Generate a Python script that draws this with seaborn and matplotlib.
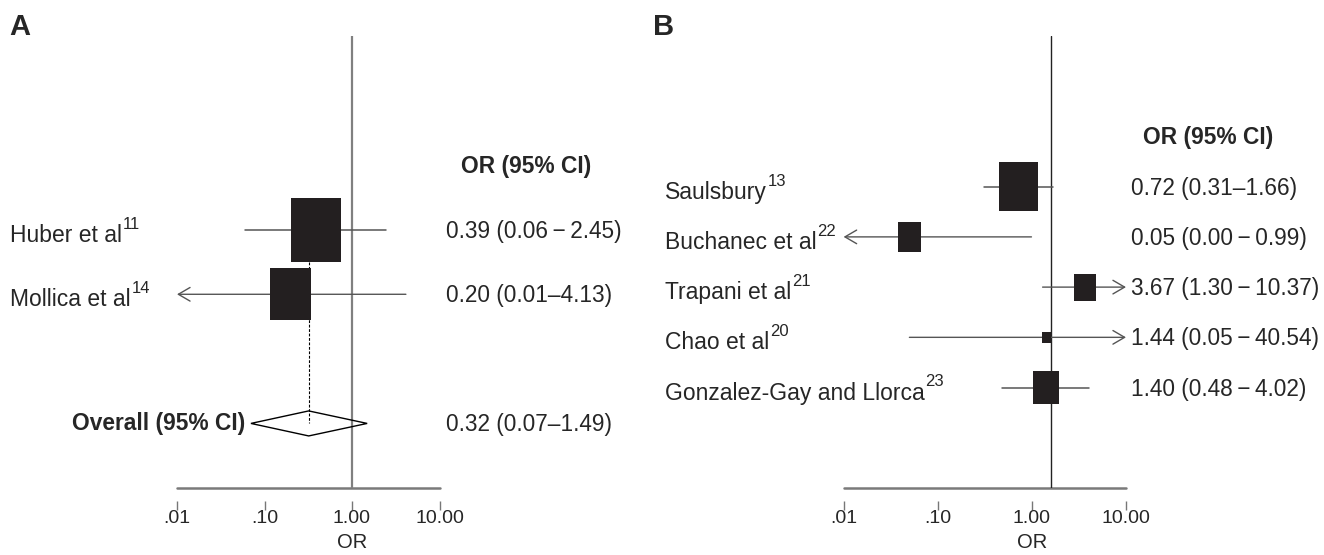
import numpy as np
import pandas as pd
import matplotlib
matplotlib.use("Agg")
import matplotlib.pyplot as plt
import seaborn as sns
from matplotlib.path import Path
from matplotlib.patches import Polygon
from matplotlib.ticker import NullLocator
import matplotlib.transforms as mtrans

# ---------------- data ----------------
a_studies = ["Huber et al", "Mollica et al"]
a_refs = ["11", "14"]
a_or = [0.39, 0.20]
a_lo = [0.06, 0.01]
a_hi = [2.45, 4.13]
a_weight = [60.0, 40.0]
a_text = ["0.39 (0.06\u2009\u2212\u20092.45)", "0.20 (0.01\u20134.13)"]
a_rows = [0, 1]
a_pooled = [0.32, 0.07, 1.49]
a_pooled_text = "0.32 (0.07\u20131.49)"
a_pooled_row = 3

b_studies = ["Saulsbury", "Buchanec et al", "Trapani et al", "Chao et al",
             "Gonzalez-Gay and Llorca"]
b_refs = ["13", "22", "21", "20", "23"]
b_or = [0.72, 0.05, 3.67, 1.44, 1.40]
b_lo = [0.31, 0.00, 1.30, 0.05, 0.48]
b_hi = [1.66, 0.99, 10.37, 40.54, 4.02]
b_weight = [45.8, 17.2, 13.9, 2.3, 20.8]
b_text = ["0.72 (0.31\u20131.66)", "0.05 (0.00\u2009\u2212\u20090.99)",
          "3.67 (1.30\u2009\u2212\u200910.37)", "1.44 (0.05\u2009\u2212\u200940.54)",
          "1.40 (0.48\u2009\u2212\u20094.02)"]
b_rows = [0, 1, 2, 3, 4]

tick_vals = [0.01, 0.1, 1, 10]
tick_labels = [".01", ".10", "1.00", "10.00"]
ref_a = 1.0
ref_b = 1.6   # reference line as drawn in panel B

# ---------------- style ----------------
sns.set_style("white")
plt.rcParams["font.family"] = ["Liberation Sans", "DejaVu Sans"]

W, H = 1324, 555
fig = plt.figure(figsize=(W / 100, H / 100), dpi=100)

BOX_C = "#231f20"
LINE_C = "#555555"
XMIN, XMAX = 0.01, 10.0

box_marker = Path([(-0.39, -0.5), (0.39, -0.5), (0.39, 0.5), (-0.39, 0.5), (-0.39, -0.5)],
                  [Path.MOVETO, Path.LINETO, Path.LINETO, Path.LINETO, Path.CLOSEPOLY])


def px_off(ax_tr, dy_px, dx_px=0):
    return ax_tr + mtrans.ScaledTranslation(dx_px / 100, -dy_px / 100, fig.dpi_scale_trans)


def setup_axes(rect, ylim, ref, ref_color, ref_lw):
    ax = fig.add_axes(rect)
    ax.set_xscale("log")
    ax.set_xlim(XMIN, XMAX)
    ax.set_ylim(*ylim)
    for s in ["top", "left", "right"]:
        ax.spines[s].set_visible(False)
    ax.spines["bottom"].set_position(("outward", 13 * 0.72))
    ax.spines["bottom"].set_visible(False)
    ax.set_xticks(tick_vals)
    ax.set_xticklabels(tick_labels)
    ax.xaxis.set_minor_locator(NullLocator())
    ax.tick_params(axis="x", bottom=True, direction="out", length=6.5, width=1.0,
                   color="#777777", pad=0, labelsize=14)
    ax.set_yticks([])
    ax.patch.set_alpha(0)
    ax.axhline(ylim[0], color="#7a7a7a", lw=1.8, clip_on=False, zorder=1)
    ax.axvline(ref, color=ref_color, lw=ref_lw, zorder=1)
    return ax


def draw_ci(ax, lo, hi, y):
    arrow = dict(arrowstyle="->,head_length=0.6,head_width=0.35", color=LINE_C,
                 lw=1.0, shrinkA=0, shrinkB=0, mutation_scale=14)
    if lo <= XMIN:
        ax.annotate("", xy=(XMIN, y), xytext=(min(hi, XMAX), y), arrowprops=arrow,
                    annotation_clip=False)
    elif hi > XMAX:
        ax.annotate("", xy=(XMAX, y), xytext=(lo, y), arrowprops=arrow,
                    annotation_clip=False)
    else:
        ax.plot([lo, hi], [y, y], color=LINE_C, lw=1.1, zorder=2)


def draw_panel(ax, studies, refs, ors, los, his, weights, texts, rows, k_px,
               label_x, value_x):
    for lo, hi, y in zip(los, his, rows):
        draw_ci(ax, lo, hi, y)
    sizes = [(k_px * np.sqrt(w) * 0.72) ** 2 for w in weights]
    df = pd.DataFrame({"OR": ors, "row": rows})
    sns.scatterplot(data=df, x="OR", y="row", marker=box_marker, s=sizes,
                    color=BOX_C, linewidth=0, edgecolor="none", ax=ax,
                    legend=False, zorder=3)
    ax.set_ylabel("")
    ax.set_xlabel("OR", fontsize=14.5)
    ax.xaxis.set_label_coords(
        1.0, -(532.5 - 488) / 452,
        transform=mtrans.blended_transform_factory(ax.transData, ax.transAxes))
    lab_tr = mtrans.blended_transform_factory(fig.transFigure, ax.transData)
    for name, ref, txt, y in zip(studies, refs, texts, rows):
        t = ax.text(label_x / W, y, name, transform=px_off(lab_tr, 12), fontsize=16.5,
                    ha="left", va="baseline")
        ax.annotate(ref, xy=(1, 1), xycoords=t, xytext=(0.5, -3.5),
                    textcoords="offset points", fontsize=12, ha="left", va="baseline")
        ax.text(value_x / W, y, txt, transform=px_off(lab_tr, 8), fontsize=16.3,
                ha="left", va="baseline")
    return lab_tr


# ---------------- panel A ----------------
axA = setup_axes([177 / W, (H - 488) / H, 262.5 / W, 452 / H], (4.0, -3.0),
                 ref_a, "#808080", 1.6)
trA = draw_panel(axA, a_studies, a_refs, a_or, a_lo, a_hi, a_weight, a_text, a_rows,
                 64 / np.sqrt(60), 10, 446)
# dashed line from study block to pooled estimate
axA.plot([a_pooled[0], a_pooled[0]], [0.5, a_pooled_row], color="black", lw=0.8,
         ls=(0, (2.5, 1.5)), zorder=1)
hh = 12.5 / 64.5
diamond = Polygon([(a_pooled[1], a_pooled_row), (a_pooled[0], a_pooled_row - hh),
                   (a_pooled[2], a_pooled_row), (a_pooled[0], a_pooled_row + hh)],
                  closed=True, facecolor="none", edgecolor="black", lw=1.0, zorder=4)
axA.add_patch(diamond)
axA.text(245 / W, a_pooled_row, "Overall (95% CI)", transform=px_off(trA, 7),
         fontsize=16.4, fontweight="bold", ha="right", va="baseline")
axA.text(446 / W, a_pooled_row, a_pooled_text, transform=px_off(trA, 8), fontsize=16.3,
         ha="left", va="baseline")
axA.text(461 / W, -1, "OR (95% CI)", transform=px_off(trA, 7.5), fontsize=16.4,
         fontweight="bold", ha="left", va="baseline")

# ---------------- panel B ----------------
axB = setup_axes([843.6 / W, (H - 488) / H, 282.4 / W, 452 / H], (6.0, -3.0),
                 ref_b, "#222222", 1.0)
trB = draw_panel(axB, b_studies, b_refs, b_or, b_lo, b_hi, b_weight, b_text, b_rows,
                 49 / np.sqrt(45.8), 665, 1131)
axB.text(1143 / W, -1, "OR (95% CI)", transform=px_off(trB, 8), fontsize=16.4,
         fontweight="bold", ha="left", va="baseline")

# panel letters
fig.text(9 / W, 1 - 35 / H, "A", fontsize=21, fontweight="bold", va="baseline")
fig.text(653 / W, 1 - 35 / H, "B", fontsize=21, fontweight="bold", va="baseline")

fig.savefig("out.png", dpi=100)
